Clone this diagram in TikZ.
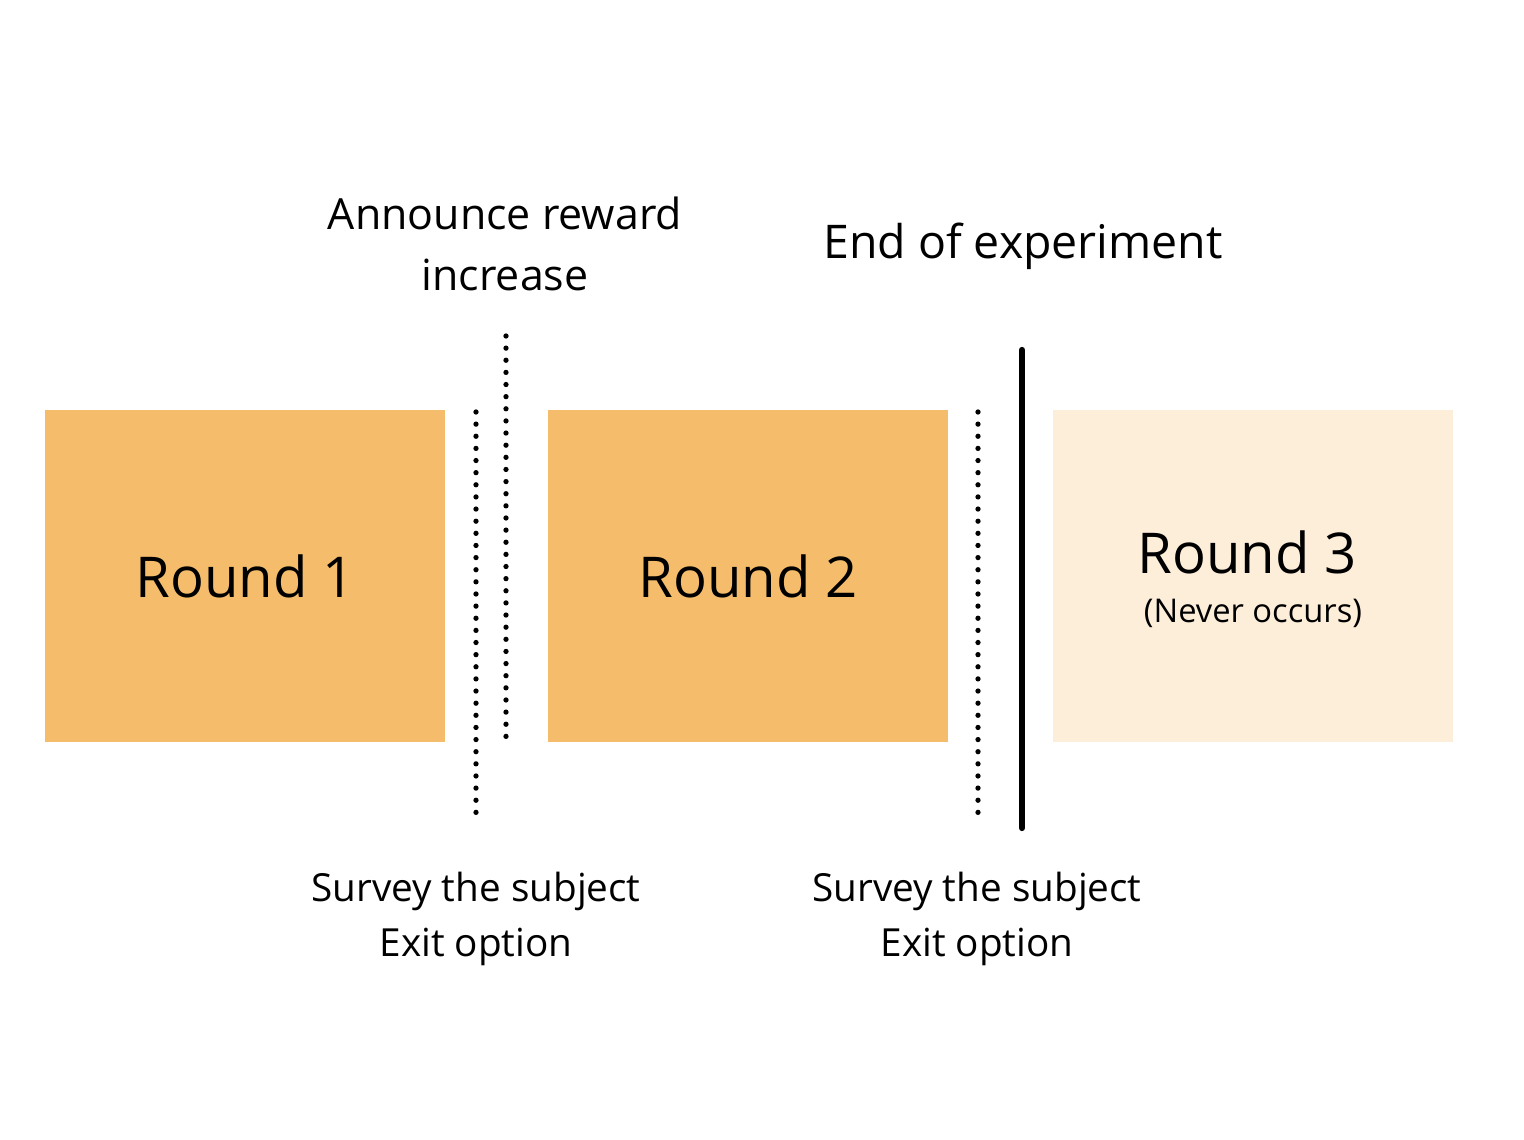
\documentclass[tikz,border=0pt]{standalone}
\usepackage{fontspec}
\setmainfont{Open Sans}
\definecolor{orng}{HTML}{F5BD6B}
\definecolor{lorng}{HTML}{FDEEDA}
\begin{document}
\begin{tikzpicture}[x=0.01cm,y=-0.01cm,
  box/.style={draw=none,minimum width=400*0.01cm,minimum height=332*0.01cm,inner sep=0},
  dots/.style={line width=1.5pt,line cap=round,dash pattern=on 0pt off 3.45pt},
  lbl/.style={align=center,font=\fontsize{11}{15.5}\selectfont}]
\useasboundingbox (0,0) rectangle (1524,1140);
\node[box,fill=orng] (r1) at (245,576) {};
\node[box,fill=orng] (r2) at (748,576) {};
\node[box,fill=lorng] (r3) at (1253,576) {};
\node[font=\fontsize{16}{18}\selectfont] (t1) at (245,576) {Round 1};
\node[font=\fontsize{16}{18}\selectfont] (t2) at (748,576) {Round 2};
\node[font=\fontsize{16}{18}\selectfont] (t3) at (1247,552) {Round 3};
\node[font=\fontsize{9.3}{11}\selectfont] (t3b) at (1253,613) {(Never occurs)};
\coordinate (a1) at (476,412); \coordinate (a2) at (476,820);
\coordinate (b1) at (506,336); \coordinate (b2) at (506,745);
\coordinate (c1) at (978,412); \coordinate (c2) at (978,820);
\coordinate (d1) at (1022,350); \coordinate (d2) at (1022,828);
\draw[dots] (a1) -- (a2);
\draw[dots] (b1) -- (b2);
\draw[dots] (c1) -- (c2);
\draw[line width=1.8pt,line cap=round] (d1) -- (d2);
\node[lbl,font=\fontsize{12.2}{17.3}\selectfont] (ann) at (505,244) {Announce reward\\increase};
\node[lbl,font=\fontsize{13.2}{16}\selectfont] (end) at (1023,246) {End of experiment};
\node[lbl] (s1) at (476,919) {Survey the subject\\Exit option};
\node[lbl] (s2) at (977,919) {Survey the subject\\Exit option};
\end{tikzpicture}
\end{document}
